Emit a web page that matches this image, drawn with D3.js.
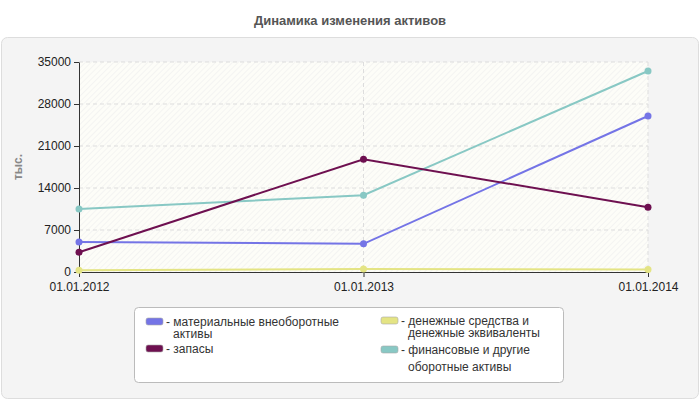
<!DOCTYPE html>
<html><head><meta charset="utf-8">
<script src="https://cdn.jsdelivr.net/npm/d3@7"></script>
<style>body{margin:0;background:#fff}svg{font-family:"Liberation Sans",Arial,sans-serif}</style>
</head><body><svg id="c" width="700" height="400"></svg>
<script>
const categories = ["01.01.2012","01.01.2013","01.01.2014"];
const seriesNames = ["материальные внеоборотные активы","запасы","денежные средства и денежные эквиваленты","финансовые и другие оборотные активы"];
const colors = ["#7474e6","#6e1050","#e4e484","#88c8c4"];
const matAssets = [5000, 4700, 26000];
const stocks = [3300, 18800, 10800];
const cash = [300, 500, 400];
const finAssets = [10500, 12800, 33500];
const yTicks = [0,7000,14000,21000,28000,35000];
const series = [matAssets, stocks, cash, finAssets];

const svg = d3.select("#c");
svg.append("text").attr("x",350).attr("y",25).attr("text-anchor","middle").attr("font-size",13).attr("font-weight","bold").attr("fill","#555").text("Динамика изменения активов");
svg.append("rect").attr("x",1.5).attr("y",37.5).attr("width",697).attr("height",361).attr("rx",6).attr("fill","#f4f4f4").attr("stroke","#ddd");
const defs = svg.append("defs");
const pat = defs.append("pattern").attr("id","h").attr("width",4).attr("height",4).attr("patternUnits","userSpaceOnUse").attr("patternTransform","rotate(45)");
pat.append("rect").attr("width",4).attr("height",4).attr("fill","#fdfdf8");
pat.append("line").attr("x1",0).attr("y1",0).attr("x2",0).attr("y2",4).attr("stroke","#ececec").attr("stroke-width",1);

const x = d3.scalePoint().domain(categories).range([79,648]);
const y = d3.scaleLinear().domain([0,35000]).range([272,62]);
svg.append("rect").attr("x",79).attr("y",62).attr("width",569).attr("height",210).attr("fill","url(#h)");
svg.append("g").selectAll("line").data(yTicks.slice(1)).join("line").attr("x1",79).attr("x2",648).attr("y1",d=>y(d)).attr("y2",d=>y(d)).attr("stroke","#ddd").attr("stroke-dasharray","4,3");
svg.append("g").selectAll("line").data(categories.slice(1)).join("line").attr("x1",d=>x(d)).attr("x2",d=>x(d)).attr("y1",62).attr("y2",272).attr("stroke","#ddd").attr("stroke-dasharray","4,3");

const ya = svg.append("g").attr("transform","translate(79,0)").call(d3.axisLeft(y).tickValues(yTicks).tickSize(5).tickSizeOuter(0).tickFormat(d3.format("d")));
ya.selectAll("text").attr("font-size",12).attr("fill","#222").attr("font-family","Liberation Sans");
ya.selectAll("path,line").attr("stroke","#333");
const xa = svg.append("g").attr("transform","translate(0,272)").call(d3.axisBottom(x).tickSize(5).tickSizeOuter(0));
xa.selectAll("text").attr("font-size",12).attr("fill","#222").attr("font-family","Liberation Sans").attr("dy","0.9em");
xa.selectAll("path,line").attr("stroke","#333");
svg.append("text").attr("transform","translate(22,167) rotate(-90)").attr("text-anchor","middle").attr("font-size",12).attr("font-weight","bold").attr("fill","#888").text("тыс.");

const line = d3.line().x((d,i)=>x(categories[i])).y(d=>y(d));
[2,0,3,1].forEach(k=>{
  svg.append("path").datum(series[k]).attr("d",line).attr("fill","none").attr("stroke",colors[k]).attr("stroke-width",2);
  svg.append("g").selectAll("circle").data(series[k]).join("circle").attr("cx",(d,i)=>x(categories[i])).attr("cy",d=>y(d)).attr("r",3.5).attr("fill",colors[k]);
});

svg.append("rect").attr("x",134.5).attr("y",307.5).attr("width",429).attr("height",75).attr("rx",4).attr("fill","#fff").attr("stroke","#bbb");
const leg = [
 {k:0,x:146,y:318,lines:["материальные внеоборотные","активы"],gap:12},
 {k:1,x:146,y:345,lines:["запасы"]},
 {k:2,x:381,y:317,lines:["денежные средства и","денежные эквиваленты"],gap:12},
 {k:3,x:381,y:346,lines:["финансовые и другие","оборотные активы"],gap:17}
];
leg.forEach(l=>{
  svg.append("rect").attr("x",l.x).attr("y",l.y).attr("width",17).attr("height",7).attr("rx",2).attr("fill",colors[l.k]).attr("stroke","#aaa").attr("stroke-width",0.6);
  l.lines.forEach((s,i)=>{
    svg.append("text").attr("x",i?l.x+27:l.x+20).attr("y",l.y+8+(i?l.gap:0)).attr("font-size",12).attr("fill","#333").text(i?s:"- "+s);
  });
});
</script></body></html>
